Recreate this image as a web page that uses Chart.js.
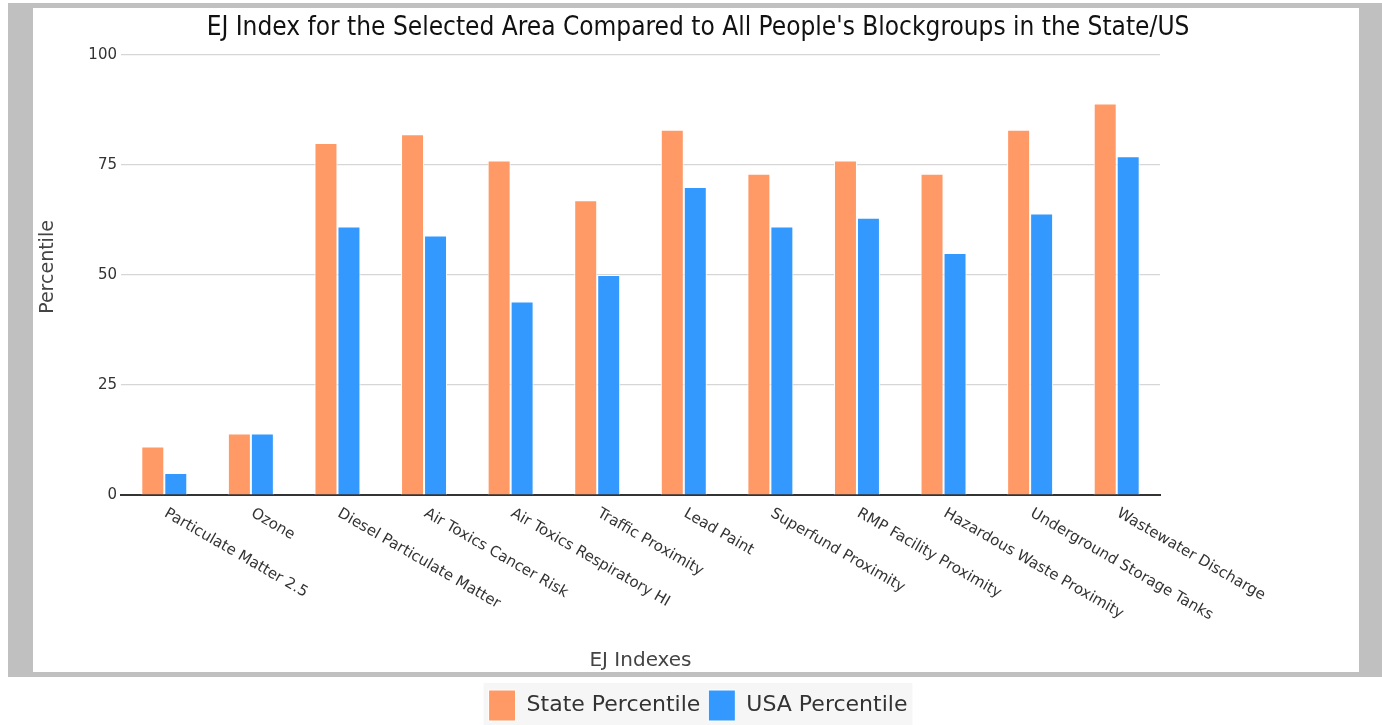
<!DOCTYPE html>
<html><head><meta charset="utf-8">
<script src="https://cdn.jsdelivr.net/npm/chart.js@4"></script>
<style>html,body{margin:0;padding:0;background:#fff;} canvas{display:block;}</style>
</head><body>
<canvas id="c" width="1382" height="725"></canvas>
<script>
const categories = ["Particulate Matter 2.5","Ozone","Diesel Particulate Matter","Air Toxics Cancer Risk","Air Toxics Respiratory HI","Traffic Proximity","Lead Paint","Superfund Proximity","RMP Facility Proximity","Hazardous Waste Proximity","Underground Storage Tanks","Wastewater Discharge"];
const statePercentile = [11,14,80,82,76,67,83,73,76,73,83,89];
const usaPercentile = [5,14,61,59,44,50,70,61,63,55,64,77];
const yTicks = [0,25,50,75,100];
const chartTitle = "EJ Index for the Selected Area Compared to All People's Blockgroups in the State/US";
const xTitle = "EJ Indexes";
const yTitle = "Percentile";

const framePlugin = {
  id: 'frame',
  beforeDraw(chart) {
    const ctx = chart.ctx;
    ctx.save();
    ctx.fillStyle = '#ffffff';
    ctx.fillRect(0, 0, chart.width, chart.height);
    ctx.fillStyle = '#c0c0c0';
    ctx.fillRect(8, 3, 1374, 674);
    ctx.fillStyle = '#ffffff';
    ctx.fillRect(33, 8, 1326, 664);
    const lg = chart.legend;
    if (lg && lg.legendHitBoxes && lg.legendHitBoxes.length) {
      const hb = lg.legendHitBoxes;
      const l = hb[0].left - 5, r = hb[hb.length-1].left + hb[hb.length-1].width + 5;
      ctx.fillStyle = '#f6f6f6';
      ctx.fillRect(l, 683, r - l, 42);
    }
    ctx.restore();
  },
  afterDraw(chart) {
    const ctx = chart.ctx;
    const xs = chart.scales.x;
    const area = chart.chartArea;
    ctx.save();
    ctx.fillStyle = '#333';
    ctx.font = '15px "DejaVu Sans"';
    ctx.textAlign = 'left';
    ctx.textBaseline = 'top';
    categories.forEach((c, i) => {
      const x = xs.getPixelForValue(i);
      ctx.save();
      ctx.translate(x + 5, area.bottom + 11);
      ctx.rotate(30 * Math.PI / 180);
      ctx.fillText(c, 0, 0);
      ctx.restore();
    });
    ctx.fillStyle = '#444';
    ctx.textAlign = 'center';
    ctx.textBaseline = 'middle';
    ctx.font = '20px "DejaVu Sans"';
    ctx.fillText(xTitle, (area.left + area.right) / 2, 661);
    ctx.font = '19px "DejaVu Sans"';
    ctx.save();
    ctx.translate(48, 267);
    ctx.rotate(-Math.PI / 2);
    ctx.fillText(yTitle, 0, 0);
    ctx.restore();
    ctx.restore();
  }
};

new Chart(document.getElementById('c'), {
  type: 'bar',
  data: {
    labels: categories,
    datasets: [
      { label: 'State Percentile', data: statePercentile, backgroundColor: '#ff9966', borderColor: '#ffffff', borderWidth: 1 },
      { label: 'USA Percentile', data: usaPercentile, backgroundColor: '#3399ff', borderColor: '#ffffff', borderWidth: 1 }
    ]
  },
  options: {
    responsive: false,
    animation: false,
    devicePixelRatio: 1,
    categoryPercentage: 0.531,
    barPercentage: 1.0,
    layout: { padding: { left: 14, right: 0, top: 0, bottom: -6 } },
    plugins: {
      title: {
        display: true, text: chartTitle, color: '#111',
        font: { family: '"DejaVu Sans Condensed"', size: 26, weight: 'normal' },
        padding: { top: 13, bottom: 10.8 }
      },
      legend: {
        position: 'bottom',
        labels: {
          boxWidth: 27, boxHeight: 31, padding: 8, color: '#333',
          font: { family: '"DejaVu Sans"', size: 22 }
        }
      },
      tooltip: { enabled: false }
    },
    scales: {
      x: {
        grid: { display: false },
        border: { display: true, color: '#333', width: 2 },
        ticks: { display: false },
        afterFit(s) { const lg = s.chart.legend; s.height = (s.chart.height + 6) - 495 - (lg ? lg.height : 0); }
      },
      y: {
        min: 0, max: 100,
        afterBuildTicks(s) { s.ticks = yTicks.map(v => ({ value: v })); },
        grid: { color: '#d6d6d6', lineWidth: 1.2, drawTicks: false },
        border: { display: false },
        ticks: { color: '#333', padding: 4, font: { family: '"DejaVu Sans"', size: 15 } },
        afterFit(s) { s.width = 107; }
      },
      yRight: {
        type: 'linear', position: 'right', display: true,
        grid: { display: false }, border: { display: false },
        ticks: { display: false },
        afterFit(s) { s.width = 222; }
      }
    }
  },
  plugins: [framePlugin]
});
</script>
</body></html>
